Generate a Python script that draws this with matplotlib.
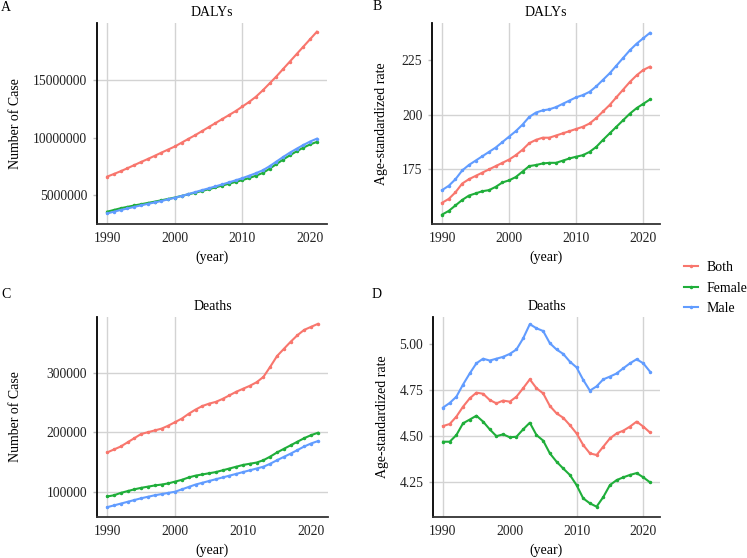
import numpy as np
import matplotlib
matplotlib.use("Agg")
import matplotlib.pyplot as plt

plt.rcParams['font.family'] = ['Liberation Serif', 'DejaVu Serif']

years = list(range(1990, 2022))
sexes = ['Both', 'Female', 'Male']
colors = {'Both': '#F8766D', 'Female': '#1FAE3A', 'Male': '#619CFF'}

# A: DALYs, number of cases (millions)
daly_num_both = [6.60, 6.83, 7.07, 7.33, 7.60, 7.87, 8.13, 8.40, 8.68, 8.95, 9.22, 9.55, 9.88, 10.20,
                 10.55, 10.90, 11.25, 11.60, 11.95, 12.30, 12.70, 13.10, 13.55, 14.10, 14.70, 15.30,
                 15.95, 16.60, 17.25, 17.90, 18.55, 19.20]
daly_num_female = [3.55, 3.70, 3.85, 3.97, 4.09, 4.20, 4.31, 4.42, 4.54, 4.66, 4.78, 4.92, 5.06, 5.20,
                   5.35, 5.50, 5.66, 5.82, 5.98, 6.14, 6.30, 6.48, 6.68, 6.92, 7.28, 7.68, 8.08, 8.45,
                   8.80, 9.12, 9.40, 9.62]
daly_num_male = [3.40, 3.55, 3.70, 3.83, 3.97, 4.10, 4.23, 4.35, 4.48, 4.62, 4.76, 4.92, 5.08, 5.25,
                 5.42, 5.58, 5.75, 5.92, 6.10, 6.28, 6.47, 6.68, 6.90, 7.15, 7.50, 7.90, 8.30, 8.68,
                 9.02, 9.35, 9.65, 9.90]

# B: DALYs, age-standardized rate
daly_rate_both = [159.7, 161.5, 164.5, 168.5, 170.5, 172, 173.5, 175, 176.5, 178, 179.5, 181.5, 184,
                  187, 188.5, 189.5, 189.5, 190.5, 191.5, 192.5, 193.5, 194.5, 196, 198.5, 201.5,
                  204.5, 208, 211.5, 215, 218, 220.5, 222]
daly_rate_female = [154.3, 156, 158.5, 161, 163, 164, 165, 165.5, 167, 169, 170, 171.5, 174, 176.5,
                    177, 177.7, 178, 178, 179, 180, 180.8, 181.5, 183, 185.3, 188.5, 191.5, 194.5,
                    197.5, 200.5, 203, 205, 207]
daly_rate_male = [165.5, 167.5, 170.5, 174.5, 177, 179, 181, 183, 185, 187.5, 190, 192.5, 195.5, 199,
                  201, 202, 202.5, 203.5, 205, 206.5, 208, 209, 210.5, 213, 216, 219, 222.5, 226,
                  229.5, 232.5, 235, 237.5]

# C: Deaths, number of cases (thousands)
death_num_both = [166, 171, 176, 183, 190, 197, 200, 203, 206, 211, 217, 223, 231, 238, 244, 248,
                  251, 256, 262, 268, 273, 278, 284, 293, 310, 328, 340, 352, 363, 372, 377, 382]
death_num_female = [92, 94, 98, 101, 104, 106.5, 108.5, 110.5, 112, 114, 117, 120, 124, 127, 129,
                    131, 133, 136, 139, 142, 145, 147, 149, 153, 159, 166, 172, 178, 184, 190, 195, 199]
death_num_male = [74, 77, 80, 83, 86, 89, 91.5, 94, 96, 98, 100, 104, 108, 112, 115, 118, 121, 124,
                  127, 130, 133, 136, 139, 142, 147, 153, 158.5, 164, 170, 176, 181, 185]

# D: Deaths, age-standardized rate
death_rate_both = [4.555, 4.566, 4.606, 4.66, 4.705, 4.736, 4.73, 4.696, 4.678, 4.693, 4.687, 4.714,
                   4.76, 4.808, 4.76, 4.732, 4.664, 4.624, 4.60, 4.56, 4.515, 4.452, 4.407, 4.398,
                   4.443, 4.488, 4.515, 4.53, 4.552, 4.579, 4.552, 4.52]
death_rate_female = [4.47, 4.47, 4.506, 4.57, 4.59, 4.611, 4.579, 4.537, 4.50, 4.51, 4.494, 4.497,
                     4.537, 4.573, 4.506, 4.476, 4.407, 4.362, 4.325, 4.29, 4.235, 4.163, 4.136,
                     4.118, 4.17, 4.235, 4.262, 4.277, 4.29, 4.30, 4.277, 4.25]
death_rate_male = [4.655, 4.68, 4.714, 4.78, 4.84, 4.895, 4.92, 4.91, 4.92, 4.93, 4.946, 4.97, 5.03,
                   5.107, 5.085, 5.07, 5.004, 4.97, 4.946, 4.904, 4.873, 4.805, 4.747, 4.77, 4.808,
                   4.823, 4.84, 4.868, 4.895, 4.917, 4.895, 4.85]

panels = [
    dict(letter='A', title='DALYs', ylabel='Number of Case',
         data={'Both': np.array(daly_num_both) * 1e6, 'Female': np.array(daly_num_female) * 1e6,
               'Male': np.array(daly_num_male) * 1e6},
         yticks=[5000000, 10000000, 15000000], yfmt='{:.0f}', ylim=(2.48e6, 19.96e6),
         rect=[97, 23, 327, 224], vgrid=[1990, 2000, 2010], hgrid=[15000000], ylx=-0.326),
    dict(letter='B', title='DALYs', ylabel='Age-standardized rate',
         data={'Both': daly_rate_both, 'Female': daly_rate_female, 'Male': daly_rate_male},
         yticks=[175, 200, 225], yfmt='{:.0f}', ylim=(150, 242),
         rect=[432, 23, 660, 224], vgrid=[1990, 2000, 2010, 2020], hgrid=[175, 200], ylx=-0.193),
    dict(letter='C', title='Deaths', ylabel='Number of Case',
         data={'Both': np.array(death_num_both) * 1e3, 'Female': np.array(death_num_female) * 1e3,
               'Male': np.array(death_num_male) * 1e3},
         yticks=[100000, 200000, 300000], yfmt='{:.0f}', ylim=(57500, 393600),
         rect=[97, 317, 328, 517], vgrid=[1990, 2000], hgrid=[100000, 200000, 300000], ylx=-0.326),
    dict(letter='D', title='Deaths', ylabel='Age-standardized rate',
         data={'Both': death_rate_both, 'Female': death_rate_female, 'Male': death_rate_male},
         yticks=[4.25, 4.50, 4.75, 5.00], yfmt='{:.2f}', ylim=(4.062, 5.146),
         rect=[433, 317, 660, 517], vgrid=[1990, 2010, 2020], hgrid=[4.25, 4.50, 4.75], ylx=-0.193),
]

W, H = 747, 558
fig = plt.figure(figsize=(W / 100, H / 100), dpi=100)

for p in panels:
    l, t, r, b = p['rect']
    ax = fig.add_axes([l / W, 1 - b / H, (r - l) / W, (b - t) / H])
    for g in p['vgrid']:
        ax.axvline(g, color='#d3d3d3', lw=1.0, zorder=0)
    for g in p['hgrid']:
        ax.axhline(g, color='#d3d3d3', lw=1.0, zorder=0)
    for s in sexes:
        ax.plot(years, p['data'][s], color=colors[s], lw=1.5, marker='.', ms=3, label=s)
    ax.set_xlim(1988.5, 2022.5)
    ax.set_ylim(*p['ylim'])
    ax.set_xticks([1990, 2000, 2010, 2020])
    ax.set_yticks(p['yticks'])
    ax.set_yticklabels([p['yfmt'].format(v) for v in p['yticks']])
    ax.tick_params(labelsize=9.8, labelcolor='#222222')
    ax.tick_params(axis='x', length=0, pad=6)
    ax.tick_params(axis='y', length=3, width=1, color='#bbbbbb', pad=4)
    for sp in ['top', 'right']:
        ax.spines[sp].set_visible(False)
    ax.spines['left'].set_linewidth(1.3)
    ax.spines['bottom'].set_linewidth(1.3)
    ax.spines['bottom'].set_color('#333333')
    ax.set_ylabel(p['ylabel'], fontsize=10)
    ax.yaxis.set_label_coords(p['ylx'], 0.5)
    ax.set_xlabel('(year)', fontsize=10)
    ax.xaxis.set_label_coords(0.5, -0.133)
    ax.text(0.5, 1.05, p['title'], transform=ax.transAxes, ha='center', va='center', fontsize=10)

fig.text(6 / W, 1 - 7.5 / H, 'A', ha='center', va='center', fontsize=10)
fig.text(377.5 / W, 1 - 7 / H, 'B', ha='center', va='center', fontsize=10)
fig.text(6 / W, 1 - 294 / H, 'C', ha='center', va='center', fontsize=10)
fig.text(377 / W, 1 - 295 / H, 'D', ha='center', va='center', fontsize=10)

handles, labels = fig.axes[0].get_legend_handles_labels()
fig.legend(handles, labels, loc='upper left', bbox_to_anchor=(684 / W, 1 - 261 / H),
           frameon=False, fontsize=10, handlelength=1.0, handletextpad=0.6,
           labelspacing=0.55, borderpad=0, borderaxespad=0)

fig.savefig('out.png', dpi=100)
